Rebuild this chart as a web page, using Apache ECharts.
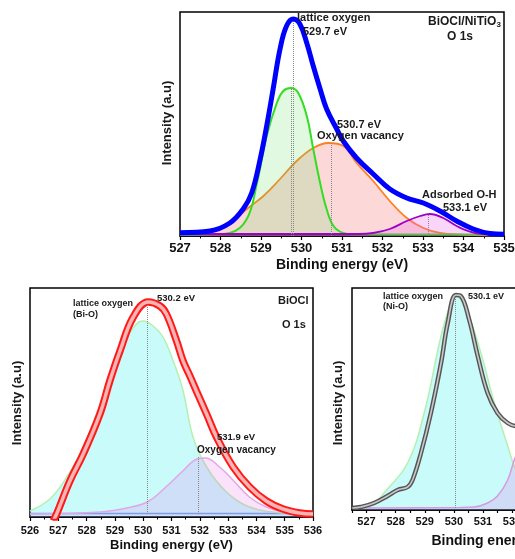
<!DOCTYPE html>
<html>
<head>
<meta charset="utf-8" />
<title>O 1s XPS</title>
<script src="https://cdn.jsdelivr.net/npm/echarts@6/dist/echarts.min.js"></script>
<style>
  html, body { margin: 0; padding: 0; background: #fff; }
</style>
</head>
<body>
<div id="main" style="width:515px;height:559px;"></div>
<script>
// ---- data: [binding energy (eV), intensity (a.u.)] ----

// top panel: BiOCl/NiTiO3
var topEnvelope = [[527,3.3],[527.74,5],[528.23,13],[528.56,27],[528.77,43],[528.98,77],[529.14,110],[529.3,147],[529.47,187],[529.63,210],[529.8,217],[529.96,212],[530.13,193],[530.29,170],[530.46,147],[530.62,127],[530.87,107],[531.03,95],[531.36,78],[531.77,62],[532.18,47],[532.6,38],[533.01,33],[533.42,25],[533.83,15],[534.24,7],[534.65,2.5],[535,1.7]];
var topLattice = [[527,1.5],[527.82,1.7],[528.23,3],[528.65,17],[528.9,53],[529.14,100],[529.39,133],[529.55,145],[529.74,148],[529.92,143],[530.13,120],[530.29,87],[530.46,53],[530.62,27],[530.79,10],[531.03,3],[531.28,1.7],[535,1.5]];
var topVacancy = [[527,2],[527.4,3.5],[527.82,6],[528.23,13],[528.65,27],[529.06,40],[529.47,57],[529.88,75],[530.29,88],[530.66,93],[531.03,90],[531.36,73],[531.77,55],[532.18,35],[532.6,18],[533.01,8],[533.42,3],[533.83,1.7],[534.24,1],[535,0.7]];
var topHydroxyl = [[527,2],[531.4,2],[531.77,3],[532.18,7],[532.6,15],[532.93,20],[533.17,22],[533.5,18],[533.83,10],[534.24,3.5],[534.65,2],[535,2]];
var topPeaks = [[529.8,216],[529.74,148],[530.73,93],[533.13,22]];

// bottom left: BiOCl
var leftRaw = [[526.82,-7],[526.94,0],[527.41,33],[527.88,60],[528.47,100],[528.82,133],[529.18,163],[529.65,197],[530.18,212],[530.59,208],[530.82,200],[531.18,173],[531.41,153],[531.65,138],[531.88,123],[532.24,100],[532.59,77],[533.18,47],[533.76,27],[534.35,13],[534.94,5],[535.53,1],[536,0]];
var leftLattice = [[526,3],[526.7,15],[527.3,37],[527.88,67],[528.35,100],[528.82,137],[529.3,170],[529.76,190],[530,193],[530.35,188],[530.7,177],[531.06,153],[531.41,123],[531.76,77],[532.24,47],[532.94,22],[533.76,7],[534.94,1],[536,0]];
var leftVacancy = [[526,0],[528.5,2],[529.6,7],[530.2,13],[530.8,27],[531.4,43],[531.9,55],[532.2,56],[532.7,47],[533.2,33],[533.75,17],[534.35,7],[535.05,2],[536,0]];
var leftBase = [[526,0.5],[536,0.5]];
var leftPeaks = [[530.15,212],[531.95,57]];

// bottom right: NiTiO3 (cut at the page edge)
var rightRaw = [[526.52,0],[526.8,1],[527.26,5],[527.72,12],[528.07,18],[528.41,21],[528.58,28],[528.87,55],[529.21,95],[529.56,145],[529.79,185],[530.07,213],[530.24,212],[530.53,188],[530.82,152],[531.16,115],[531.5,95],[531.85,85],[532.13,82],[532.5,82],[533,80],[533.5,65],[534,42],[534.5,20],[535,8],[535.5,3],[536.5,1]];
var rightLattice = [[526.52,0],[526.8,1],[527.26,5],[527.6,15],[528.41,45],[528.98,95],[529.56,172],[529.9,205],[530.07,212],[530.47,195],[530.93,155],[531.39,105],[531.85,62],[532.13,38],[532.5,20],[533,8],[533.5,3],[534,1],[536.5,0]];
var rightOther = [[526.52,0],[530.2,0.5],[530.7,1],[531.16,5],[531.5,12],[531.85,28],[532.13,52],[532.5,70],[533,78],[533.5,65],[534,40],[534.5,18],[535,6],[535.5,2],[536.5,0]];
var rightPeaks = [[530.05,213]];

var fam = '"Liberation Sans", Arial, sans-serif';
var myChart = echarts.init(document.getElementById('main'));

function curve(data, idx, color, width, fill, z) {
    var s = {
        type: 'line', data: data, xAxisIndex: idx, yAxisIndex: idx,
        smooth: 0.4, showSymbol: false, silent: true, z: z,
        lineStyle: { color: color, width: width }
    };
    if (fill) s.areaStyle = { color: fill, origin: 'start' };
    return s;
}

function peakLines(s, peaks) {
    s.markLine = {
        silent: true, symbol: 'none', animation: false,
        label: { show: false },
        lineStyle: { type: 'dotted', color: '#888', width: 1 },
        data: peaks.map(function (p) { return [{ coord: [p[0], 0] }, { coord: [p[0], p[1]] }]; })
    };
    return s;
}

function energyAxis(idx, min, max, interval, fontSize, margin, nameGap, nameSize) {
    return {
        type: 'value', gridIndex: idx, min: min, max: max, interval: interval,
        name: 'Binding energy (eV)', nameLocation: 'middle', nameGap: nameGap,
        nameTextStyle: { fontFamily: fam, fontWeight: 'bold', fontSize: nameSize, color: '#111' },
        axisLine: { onZero: false, lineStyle: { color: '#000', width: 1.5 } },
        axisTick: { length: 4, lineStyle: { color: '#000', width: 1.2 } },
        minorTick: { show: true, splitNumber: 2, length: 2.5, lineStyle: { color: '#000', width: 1 } },
        axisLabel: { margin: margin, fontFamily: fam, fontWeight: 'bold', fontSize: fontSize, color: '#111' },
        splitLine: { show: false }
    };
}

function intensityAxis(idx, min, max) {
    return {
        type: 'value', gridIndex: idx, min: min, max: max,
        axisLine: { show: false }, axisTick: { show: false },
        axisLabel: { show: false }, splitLine: { show: false }
    };
}

function txt(text, x, y, size, extra) {
    var st = { text: text, fontFamily: fam, fontWeight: 'bold', fontSize: size, fill: '#1a1a1a',
               align: 'left', verticalAlign: 'middle' };
    if (extra) for (var k in extra) st[k] = extra[k];
    return { type: 'text', x: x, y: y, z: 100, style: st };
}

function vtxt(text, x, y, size) {
    return { type: 'text', x: x, y: y, rotation: Math.PI / 2, z: 100,
             style: { text: text, fontFamily: fam, fontWeight: 'bold', fontSize: size, fill: '#1a1a1a',
                      align: 'center', verticalAlign: 'middle' } };
}

var gridBox = { show: true, borderColor: '#000', borderWidth: 1.5, backgroundColor: 'transparent', outerBoundsMode: 'none' };

var rightAxis = energyAxis(2, 526.5, 536.5, 0.5, 11, 6, 24, 14);
rightAxis.minorTick = { show: false };
rightAxis.axisTick.length = 3;
rightAxis.axisLabel.formatter = function (v) { return Number.isInteger(v) ? String(v) : ''; };

var option = {
    backgroundColor: '#fff',
    animation: false,
    grid: [
        Object.assign({ left: 180, top: 12, right: 11, bottom: 323 }, gridBox),
        Object.assign({ left: 30, top: 288, right: 202, bottom: 42 }, gridBox),
        Object.assign({ left: 352, top: 288, right: -128, bottom: 49 }, gridBox)
    ],
    xAxis: [
        energyAxis(0, 527, 535, 1, 13, 6, 22, 14),
        energyAxis(1, 526, 536, 1, 11, 8, 22, 13),
        rightAxis
    ],
    yAxis: [
        intensityAxis(0, 0, 224),
        intensityAxis(1, -3, 226),
        intensityAxis(2, -2, 220)
    ],
    series: [
        // top
        peakLines(curve(topVacancy, 0, '#ff7f1e', 1.8, 'rgba(248,110,110,0.38)', 2), topPeaks),
        curve(topLattice, 0, '#33dd22', 2, 'rgba(110,225,110,0.3)', 3),
        curve(topHydroxyl, 0, '#9d00c8', 1.8, 'rgba(232,100,232,0.38)', 4),
        curve(topEnvelope, 0, '#0000ff', 5, null, 5),
        // bottom left
        curve(leftBase, 1, '#7f95e8', 1.5, null, 1),
        peakLines(curve(leftLattice, 1, '#b4f0b0', 1.5, 'rgba(0,235,235,0.3)', 2), leftPeaks),
        curve(leftVacancy, 1, '#e2a6e6', 1.5, 'rgba(230,120,230,0.3)', 3),
        curve(leftRaw, 1, '#ff1a1a', 7.5, null, 4),
        curve(leftRaw, 1, '#ffb4b4', 3.5, null, 5),
        // bottom right
        peakLines(curve(rightLattice, 2, '#b4f0b0', 1.5, 'rgba(0,235,235,0.3)', 2), rightPeaks),
        curve(rightOther, 2, '#d69ae0', 1.5, 'rgba(230,120,230,0.35)', 3),
        curve(rightRaw, 2, '#555555', 4.5, null, 4),
        curve(rightRaw, 2, '#c8c8c8', 1.6, null, 5)
    ],
    graphic: [
        // top panel
        vtxt('Intensity (a.u)', 167, 123, 13),
        txt('lattice oxygen', 297, 18, 11),
        txt('529.7 eV', 303, 32, 11),
        txt('BiOCl/NiTiO{sub|3}', 428, 22, 12, { rich: { sub: { fontFamily: fam, fontWeight: 'bold', fontSize: 8, verticalAlign: 'bottom', padding: [6, 0, 0, 0] } } }),
        txt('O 1s', 447, 37, 12),
        txt('530.7 eV', 337, 125, 11),
        txt('Oxygen vacancy', 317, 136, 11),
        txt('Adsorbed O-H', 422, 195, 11),
        txt('533.1 eV', 443, 208, 11),
        // bottom left
        vtxt('Intensity (a.u)', 17, 403, 13),
        txt('lattice oxygen', 73, 304, 9),
        txt('(Bi-O)', 73, 315, 9),
        txt('530.2 eV', 157, 298, 9.5),
        txt('BiOCl', 278, 301, 11),
        txt('O 1s', 282, 325, 11),
        txt('531.9 eV', 217, 437, 9.5),
        txt('Oxygen vacancy', 197, 450, 10),
        // bottom right
        vtxt('Intensity (a.u)', 338, 403, 13),
        txt('lattice oxygen', 383, 297, 9),
        txt('(Ni-O)', 383, 307, 9),
        txt('530.1 eV', 468, 297, 9)
    ]
};

myChart.setOption(option);
</script>
</body>
</html>
